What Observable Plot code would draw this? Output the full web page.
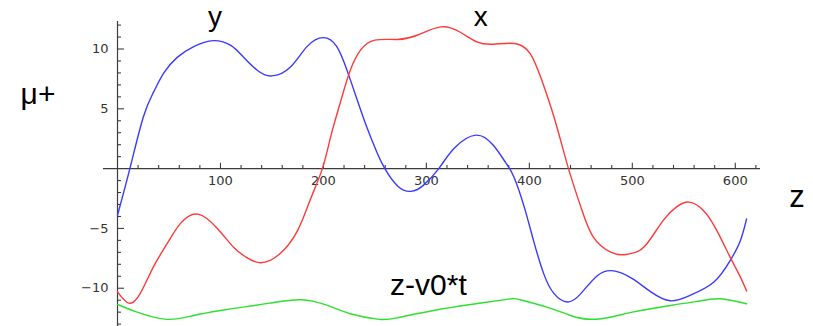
<!DOCTYPE html>
<html>
<head>
<meta charset="utf-8">
<script src="https://cdn.jsdelivr.net/npm/d3@7"></script>
<script src="https://cdn.jsdelivr.net/npm/@observablehq/plot@0.6"></script>
<style>
  html, body { margin: 0; padding: 0; background: #fff; }
  #chart svg { display: block; }
</style>
</head>
<body>
<div id="chart"></div>
<script>
// ---- data ----
const yZ = [0,12,25,35,45,58,74,93,110,122,136,150,168,184,200,213,223,233,242,251,259,272,285,297,312,327,348,365,377,385,395,404,414,424,437,450,466,482,500,518,537,556,579,595,605,611];
const yV = [-3.9,0,4.3,6.4,8.0,9.3,10.2,10.7,10.3,9.35,8.2,7.75,8.5,10.2,10.95,10.2,8.2,5.7,3.5,1.55,0.1,-1.45,-1.9,-1.4,0,1.7,2.8,1.95,0.5,-0.7,-3.2,-6,-8.8,-10.45,-11.15,-10.45,-8.95,-8.55,-9.2,-10.3,-11.05,-10.6,-9.5,-7.7,-6.0,-4.2];

const xZ = [0,11,22,35,48,61,78,97,113,124,139,158,175,187,199,207,217,226,236,250,272,291,314,333,349,365,386,401,412,425,438,450,462,479,492,503,514,530,543,555,569,582,595,605,611];
const xV = [-10.3,-11.25,-10.45,-8.2,-6.3,-4.6,-3.8,-5.0,-6.6,-7.35,-7.87,-7.1,-5.16,-2.65,0,2.65,5.7,8.2,9.9,10.74,10.8,11.15,11.85,11.4,10.6,10.4,10.46,9.6,7.4,4.0,0,-3.2,-5.7,-6.98,-7.2,-7.0,-6.3,-4.33,-3.2,-2.8,-3.5,-5.16,-7.4,-9.07,-10.24];

const wZ = [0,19,48,74,100,120,148,178,204,226,254,272,307,343,378,391,417,440,460,482,500,537,563,585,611];
const wV = [-11.36,-12.0,-12.6,-12.28,-11.86,-11.6,-11.25,-10.96,-11.44,-12.13,-12.6,-12.47,-11.86,-11.36,-10.93,-10.96,-11.58,-12.28,-12.6,-12.36,-12.0,-11.44,-11.1,-10.88,-11.3];

const zMajorTicks = [100,200,300,400,500,600];
const zTickLabels = ["100","200","300","400","500","600"];
const zMinorTicks = d3.range(20, 621, 20).filter(v => v % 100 !== 0);
const vMajorTicks = [-10,-5,5,10];
const vTickLabels = ["\u221210","\u22125","5","10"];
const vMinorTicks = d3.range(-13, 13, 1).filter(v => v !== 0 && v % 5 !== 0);

const curveLabels = ["y", "x", "z-v0*t"];
const axisLabels = ["\u03bc+", "z"];

// ---- build tables ----
const series = [
  ...yZ.map((z, i) => ({z, v: yV[i], s: "y"})),
  ...xZ.map((z, i) => ({z, v: xV[i], s: "x"})),
  ...wZ.map((z, i) => ({z, v: wV[i], s: "w"}))
];
const colors = {y: "#3a3aff", x: "#ff3a3a", w: "#2ee02e"};

const zDomain = [-13.6, 624.5];
const vDomain = [-13.2, 12.3];
const axisColor = "#3c3c3c";
const tickFont = "DejaVu Sans, Verdana, sans-serif";
const bigFont = "Liberation Sans, Arial, Helvetica, sans-serif";

const chart = Plot.plot({
  width: 813,
  height: 326,
  marginLeft: 103,
  marginRight: 53,
  marginTop: 21,
  marginBottom: 0,
  x: {domain: zDomain, axis: null},
  y: {domain: vDomain, axis: null},
  marks: [
    // axes
    Plot.ruleY([0], {x1: zDomain[0], x2: zDomain[1], stroke: axisColor, strokeWidth: 1.2}),
    Plot.ruleX([0], {y1: vDomain[0], y2: vDomain[1], stroke: axisColor, strokeWidth: 1.2}),
    // x ticks (pointing up)
    Plot.ruleX(zMajorTicks, {x: d => d, y1: 0, y2: 0.45, stroke: axisColor, strokeWidth: 1.1}),
    Plot.ruleX(zMinorTicks, {x: d => d, y1: 0, y2: 0.27, stroke: axisColor, strokeWidth: 1.1}),
    // y ticks (pointing right)
    Plot.ruleY(vMajorTicks, {y: d => d, x1: 0, x2: 6.8, stroke: axisColor, strokeWidth: 1.1}),
    Plot.ruleY(vMinorTicks, {y: d => d, x1: 0, x2: 3.9, stroke: axisColor, strokeWidth: 1.1}),
    // tick labels
    Plot.text(zMajorTicks, {x: d => d, y: 0, text: (d, i) => zTickLabels[i], dy: 12, lineAnchor: "middle",
      fontFamily: tickFont, fontSize: 13, fill: "#333"}),
    Plot.text(vMajorTicks, {x: 0, y: d => d, text: (d, i) => vTickLabels[i], dx: -9, textAnchor: "end", lineAnchor: "middle",
      fontFamily: tickFont, fontSize: 13, fill: "#333"}),
    // curves
    Plot.line(series, {x: "z", y: "v", z: "s", stroke: d => colors[d.s], curve: "natural", strokeWidth: 1.4}),
    // curve labels
    Plot.text([curveLabels[0]], {x: 94.7, y: 12.65, text: d => d, lineAnchor: "middle", fontFamily: bigFont, fontSize: 28, fill: "#000"}),
    Plot.text([curveLabels[1]], {x: 352.9, y: 12.65, text: d => d, lineAnchor: "middle", fontFamily: bigFont, fontSize: 28, fill: "#000"}),
    Plot.text([curveLabels[2]], {x: 302, y: -9.76, text: d => d, lineAnchor: "middle", fontFamily: bigFont, fontSize: 30, fill: "#000"}),
    // axis labels
    Plot.text([axisLabels[0]], {x: -77.2, y: 6.21, text: d => d, lineAnchor: "middle", fontFamily: bigFont, fontSize: 30, fill: "#000"}),
    Plot.text([axisLabels[1]], {x: 659.9, y: -2.36, text: d => d, lineAnchor: "middle", fontFamily: bigFont, fontSize: 31, fill: "#000"})
  ]
});
document.getElementById("chart").appendChild(chart);
</script>
</body>
</html>
